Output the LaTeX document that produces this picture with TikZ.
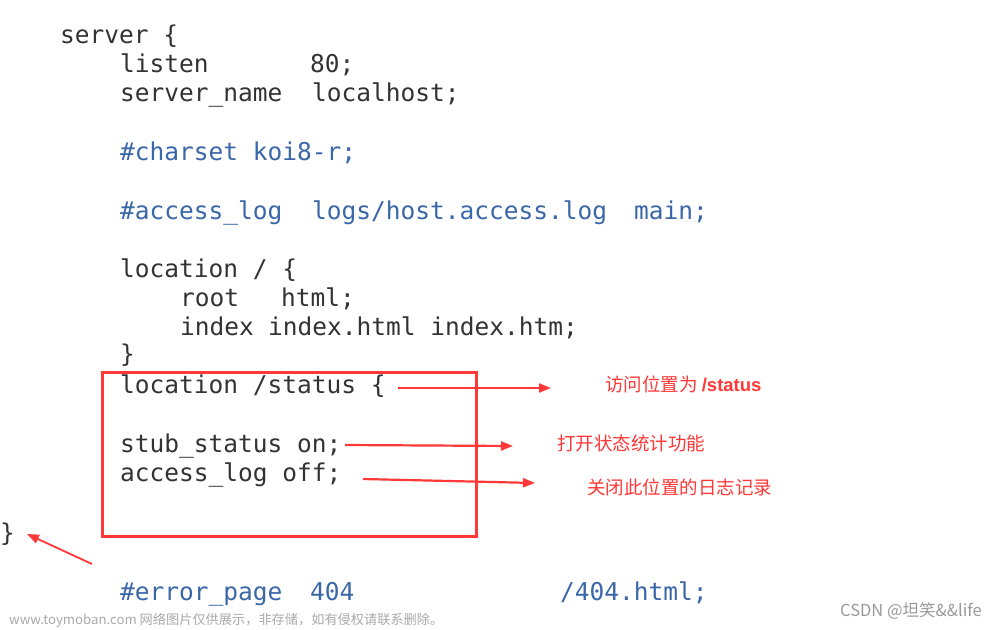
\documentclass[tikz,border=0pt]{standalone}
\usepackage{fontspec}
\setmonofont{DejaVu Sans Mono}
\newfontfamily\cjk{Noto Sans CJK SC}
\usetikzlibrary{arrows.meta}
\definecolor{codegray}{HTML}{333333}
\definecolor{codeblue}{HTML}{3A67A8}
\definecolor{mkred}{HTML}{FF3838}
\definecolor{wmgray}{HTML}{AAAAAA}
\tikzset{
  code/.style={anchor=base west, inner sep=0pt, font=\ttfamily\fontsize{24.5}{24.5}\selectfont, text=codegray},
  comment/.style={code, text=codeblue},
  note/.style={anchor=west, inner sep=0pt, font=\cjk\fontsize{18.5}{18.5}\selectfont, text=mkred},
  wm/.style={anchor=west, inner sep=0pt, text=wmgray},
  redarrow/.style={draw=mkred, line width=2.2pt, -{Triangle[length=12pt,width=9pt]}},
  redbox/.style={draw=mkred, line width=3pt}
}
\begin{document}
\begin{tikzpicture}[x=1pt,y=-1pt]
\useasboundingbox[fill=white] (0,0) rectangle (1000,629);
% code lines
\node[code] (l1) at (60,43) {server \{};
\node[code] (l2a) at (120,72) {listen};
\node[code] (l2b) at (310,72) {80;};
\node[code] (l3a) at (120,101) {server\_name};
\node[code] (l3b) at (312,101) {localhost;};
\node[comment] (l4) at (120,160) {\#charset koi8-r;};
\node[comment] (l5a) at (120,219) {\#access\_log};
\node[comment] (l5b) at (312,219) {logs/host.access.log};
\node[comment] (l5c) at (634,219) {main;};
\node[code] (l6) at (120,277) {location / \{};
\node[code] (l7a) at (180,306) {root};
\node[code] (l7b) at (281,306) {html;};
\node[code] (l8a) at (180,335) {index};
\node[code] (l8b) at (268,335) {index.html index.htm;};
\node[code] (l9) at (120,362) {\}};
\node[code] (l10) at (120,393) {location /status \{};
\node[code] (l11) at (120,452) {stub\_status on;};
\node[code] (l12) at (120,481) {access\_log off;};
\node[code] (l13) at (0,541) {\}};
\node[comment] (l14a) at (120,600) {\#error\_page};
\node[comment] (l14b) at (310,600) {404};
\node[comment] (l14c) at (560,600) {/404.html;};
% red box
\draw[redbox] (102,372) rectangle (476,536);
% notes
\node[note] (n1) at (605,384) {访问位置为 {\fontspec{Liberation Sans}\bfseries /status}};
\node[note] (n2) at (557,443) {打开状态统计功能};
\node[note] (n3) at (587,487) {关闭此位置的日志记录};
% arrows
\coordinate (s1) at (398,388);
\coordinate (e1) at (551,388);
\coordinate (s2) at (345,445);
\coordinate (e2) at (513,446);
\coordinate (s3) at (363,479);
\coordinate (e3) at (535,483);
\coordinate (s4) at (92,564);
\coordinate (e4) at (27,534);
\draw[redarrow] (s1) -- (e1);
\draw[redarrow] (s2) -- (e2);
\draw[redarrow] (s3) -- (e3);
\draw[redarrow, line width=1.8pt] (s4) -- (e4);
% watermarks
\node[wm, font=\fontspec{Noto Sans CJK SC}\fontsize{13.2}{13.2}\selectfont] (w1) at (9,620) {www.toymoban.com 网络图片仅供展示，非存储，如有侵权请联系删除。};
\node[wm, font=\fontspec{Noto Sans CJK SC}\fontsize{16.5}{16.5}\selectfont, text=gray!80] (w2) at (840,611) {CSDN @坦笑\&\&life};
\end{tikzpicture}
\end{document}
